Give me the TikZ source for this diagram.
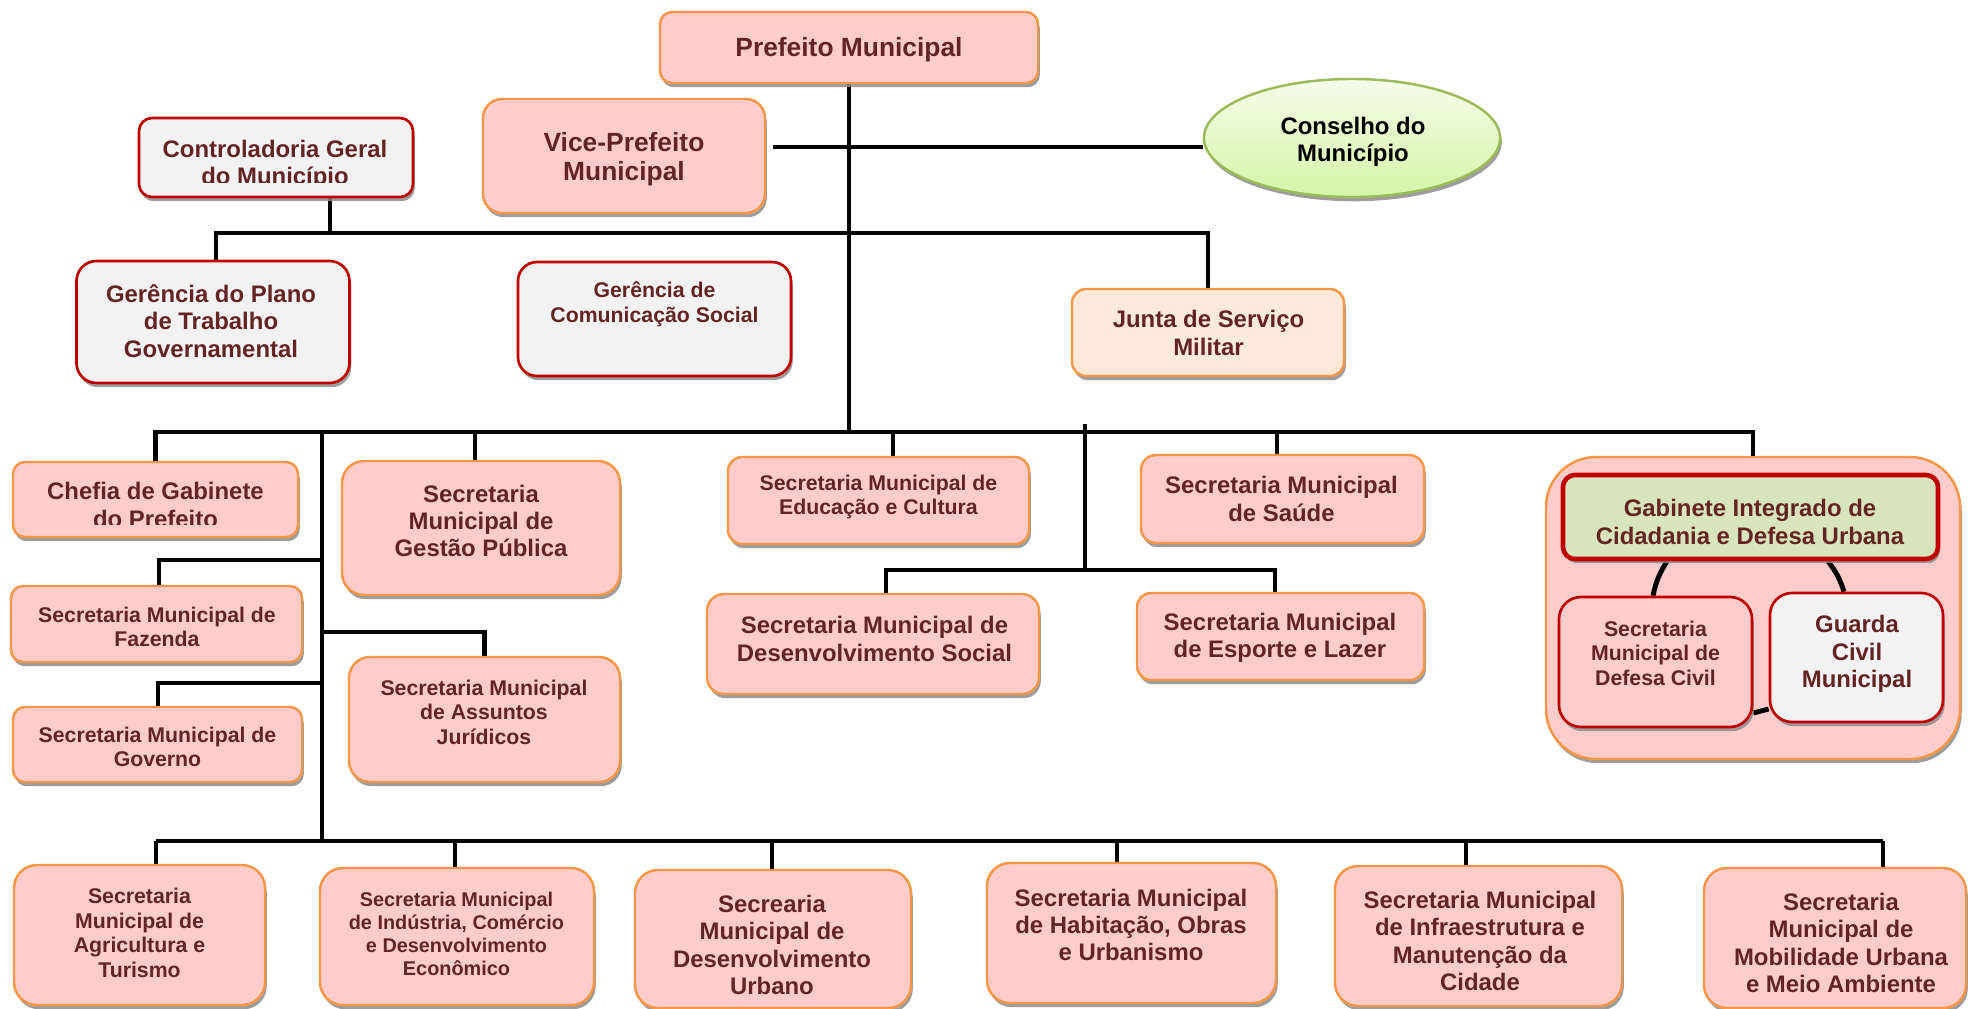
\documentclass[tikz,border=0pt]{standalone}
\usepackage{fontspec}
\setmainfont{Liberation Sans}
\usetikzlibrary{shapes.geometric,shadows}
\pgfdeclarelayer{back}
\pgfdeclarelayer{lines}
\pgfsetlayers{back,lines,main}

\definecolor{secpink}{HTML}{FFCCCC}
\definecolor{secline}{HTML}{F79646}
\definecolor{gerfill}{HTML}{F2F2F2}
\definecolor{gerline}{HTML}{C00000}
\definecolor{juntafill}{HTML}{FDE9D9}
\definecolor{gabfill}{HTML}{D7E4BD}
\definecolor{txtred}{HTML}{632523}
\definecolor{conslight}{HTML}{F4FCEA}
\definecolor{consdark}{HTML}{D6F5A8}
\definecolor{consline}{HTML}{9BBB59}

\begin{document}
\begin{tikzpicture}[x=0.01cm, y=-0.01cm,
    sz/.style n args={3}{minimum width=#1*0.01cm, minimum height=#2*0.01cm, rounded corners=#3*0.01cm},
    shad/.style={drop shadow={shadow xshift=0.5pt, shadow yshift=-1.2pt, fill=black!45, opacity=0.85}},
    sec/.style={shad, draw=secline, line width=0.7pt, fill=secpink, inner sep=0pt},
    ger/.style={shad, draw=gerline, line width=0.75pt, fill=gerfill, inner sep=0pt},
    bigtxt/.style={font=\fontsize{7.5}{8.25}\selectfont\bfseries, text=txtred, align=center},
    medtxt/.style={font=\fontsize{6.8}{7.8}\selectfont\bfseries, text=txtred, align=center},
    smltxt/.style={font=\fontsize{6.05}{7.0}\selectfont\bfseries, text=txtred, align=center},
    tinytxt/.style={font=\fontsize{5.65}{6.5}\selectfont\bfseries, text=txtred, align=center},
    bus/.style={line width=1.4pt}]

    \useasboundingbox (0,0) rectangle (1968,1008);

    \def \ybusA {233}
    \def \ybusB {432}
    \def \ybusC {841}
    \def \xsub {322}

    % Top: mayor, vice-mayor, council
    \node[sec, sz={378}{71}{12}] (pref) at (849,47.5) {};
    \node[bigtxt] (prefT) at (849,50) {Prefeito Municipal};
    \node[sec, sz={282}{114}{19}] (vice) at (624,156) {};
    \node[bigtxt] (viceT) at (624,159) {Vice-Prefeito\\Municipal};
    \node[ellipse, shad, draw=consline, line width=0.7pt, top color=conslight, bottom color=consdark,
          minimum width=2.96cm, minimum height=1.18cm, inner sep=0pt] (cons) at (1352,138) {};
    \node[medtxt, text=black] (consT) at (1353,142) {Conselho do\\Município};

    \node[ger, sz={274}{79}{13}] (ctrl) at (276,157.5) {};
    \begin{scope}
        \clip (139,118) rectangle (413,182);
        \node[medtxt] (ctrlT) at (275,165) {Controladoria Geral\\do Município};
    \end{scope}

    % Managers below the mayor
    \node[ger, sz={273}{122}{20}] (gplano) at (213,322) {};
    \node[medtxt] (gplanoT) at (211,321) {Gerência do Plano\\de Trabalho\\Governamental};
    \node[ger, sz={273}{114}{19}] (gcom) at (654.5,319) {};
    \node[smltxt] (gcomT) at (654.5,304) {Gerência de\\Comunicação Social};
    \node[sec, fill=juntafill, sz={272}{87}{14}] (junta) at (1208,332.5) {};
    \node[medtxt] (juntaT) at (1208.5,333) {Junta de Serviço\\Militar};

    % Secretariats, left column
    \node[sec, sz={285}{75}{12}] (chefia) at (155.5,499.5) {};
    \begin{scope}
        \clip (13,462) rectangle (298,524);
        \node[medtxt] (chefiaT) at (155.5,505) {Chefia de Gabinete\\do Prefeito};
    \end{scope}
    \node[sec, sz={278}{134}{22}] (gestao) at (481,528) {};
    \node[medtxt] (gestaoT) at (481,521) {Secretaria\\Municipal de\\Gestão Pública};
    \node[sec, sz={291}{76}{12}] (fazenda) at (156.5,624) {};
    \node[smltxt] (fazendaT) at (157,627) {Secretaria Municipal de\\Fazenda};
    \node[sec, sz={271}{125}{21}] (assuntos) at (484.5,719.5) {};
    \node[smltxt] (assuntosT) at (484,712) {Secretaria Municipal\\de Assuntos\\Jurídicos};
    \node[sec, sz={289}{75}{12}] (governo) at (157.5,744.5) {};
    \node[smltxt] (governoT) at (157.5,747) {Secretaria Municipal de\\Governo};

    % Secretariats, centre
    \node[sec, sz={301}{87}{14}] (educ) at (878.5,500.5) {};
    \node[smltxt] (educT) at (878.5,497) {Secretaria Municipal de\\Educação e Cultura};
    \node[sec, sz={332}{100}{17}] (dsocial) at (873,644) {};
    \node[medtxt] (dsocialT) at (874.5,639) {Secretaria Municipal de\\Desenvolvimento Social};
    \node[sec, sz={283}{88}{15}] (saude) at (1282.5,499) {};
    \node[medtxt] (saudeT) at (1281.5,499) {Secretaria Municipal\\de Saúde};
    \node[sec, sz={287}{87}{14}] (esporte) at (1280.5,636.5) {};
    \node[medtxt] (esporteT) at (1280,638) {Secretaria Municipal\\de Esporte e Lazer};

    % Integrated cabinet
    \begin{pgfonlayer}{back}
        \node[sec, sz={414}{302}{50}] (gabout) at (1753,608) {};
    \end{pgfonlayer}
    \node[shad, draw=gerline, line width=1.3pt, fill=gabfill, inner sep=0pt, sz={375}{84}{12}] (gabint) at (1750.5,517) {};
    \node[medtxt] (gabintT) at (1750,522) {Gabinete Integrado de\\Cidadania e Defesa Urbana};
    \node[sec, draw=gerline, line width=0.75pt, sz={193}{130}{22}] (defesa) at (1655.5,662) {};
    \node[smltxt] (defesaT) at (1655.5,653) {Secretaria\\Municipal de\\Defesa Civil};
    \node[ger, sz={173}{129}{22}] (guarda) at (1856.5,657.5) {};
    \node[medtxt] (guardaT) at (1857,654) {Guarda\\Civil\\Municipal};

    % Secretariats, bottom row
    \node[sec, sz={251}{140}{23}] (agri) at (139.5,935) {};
    \node[smltxt] (agriT) at (139.5,933) {Secretaria\\Municipal de\\Agricultura e\\Turismo};
    \node[sec, sz={274}{137}{23}] (industria) at (457,936.5) {};
    \node[tinytxt] (industriaT) at (456.5,934) {Secretaria Municipal\\de Indústria, Comércio\\e Desenvolvimento\\Econômico};
    \node[sec, sz={276}{138}{23}] (desurb) at (773,939) {};
    \node[medtxt] (desurbT) at (772,945) {Secrearia\\Municipal de\\Desenvolvimento\\Urbano};
    \node[sec, sz={289}{140}{23}] (habit) at (1131.5,933) {};
    \node[medtxt] (habitT) at (1131,925) {Secretaria Municipal\\de Habitação, Obras\\e Urbanismo};
    \node[sec, sz={287}{140}{23}] (infra) at (1478.5,936) {};
    \node[medtxt] (infraT) at (1480,941) {Secretaria Municipal\\de Infraestrutura e\\Manutenção da\\Cidade};
    \node[sec, sz={262}{140}{23}] (mobil) at (1835,938) {};
    \node[medtxt] (mobilT) at (1841,943) {Secretaria\\Municipal de\\Mobilidade Urbana\\e Meio Ambiente};

    \begin{pgfonlayer}{lines}
        % mayor trunk and vice-mayor line
        \draw[bus] (pref.south) -- (pref.south |- 0,\ybusB);
        \draw[bus] ([xshift=2pt]vice.east |- 0,147) -- (cons.west |- 0,147);

        % upper bus
        \draw[bus] (gplano.north -| 216,0) -- (216,\ybusA) -- (junta.north |- 0,\ybusA) -- (junta.north);
        \draw[bus] (ctrl.south -| 330,0) -- (330,\ybusA);

        % middle bus
        \draw[bus] (chefia.north) -- (chefia.north |- 0,\ybusB) -- (gabout.north |- 0,\ybusB) -- (gabout.north);
        \foreach \n/\x in {gestao/475, educ/893, saude/1277}
            \draw[bus] (\n.north -| \x,0) -- (\x,\ybusB);

        % left trunk with its branches
        \draw[bus] (\xsub,\ybusB) -- (\xsub,\ybusC);
        \draw[bus] (\xsub,560) -| (fazenda.north -| 159,0);
        \draw[bus] (\xsub,632) -| (assuntos.north);
        \draw[bus] (\xsub,683) -| (governo.north -| 158,0);

        % centre trunk
        \draw[bus] (1085,424) -- (1085,570);
        \draw[bus] (dsocial.north -| 886,0) -- (886,570) -- (1275,570) -- (esporte.north -| 1275,0);

        % lower bus
        \draw[bus] (156,\ybusC) -- (1883,\ybusC);
        \foreach \n/\x in {agri/156, industria/455, desurb/772, habit/1117, infra/1466, mobil/1883}
            \draw[bus] (\n.north -| \x,0) -- (\x,\ybusC);

        % links inside the integrated cabinet
        \draw[bus] (gabint.south -| 1667,0) to[bend right=10] (defesa.north -| 1653,0);
        \draw[bus] (gabint.south -| 1828,0) to[bend left=10] (guarda.north -| 1844,0);
        \draw[bus] (defesa.east |- 0,713) -- (guarda.west |- 0,709);
    \end{pgfonlayer}

\end{tikzpicture}
\end{document}
